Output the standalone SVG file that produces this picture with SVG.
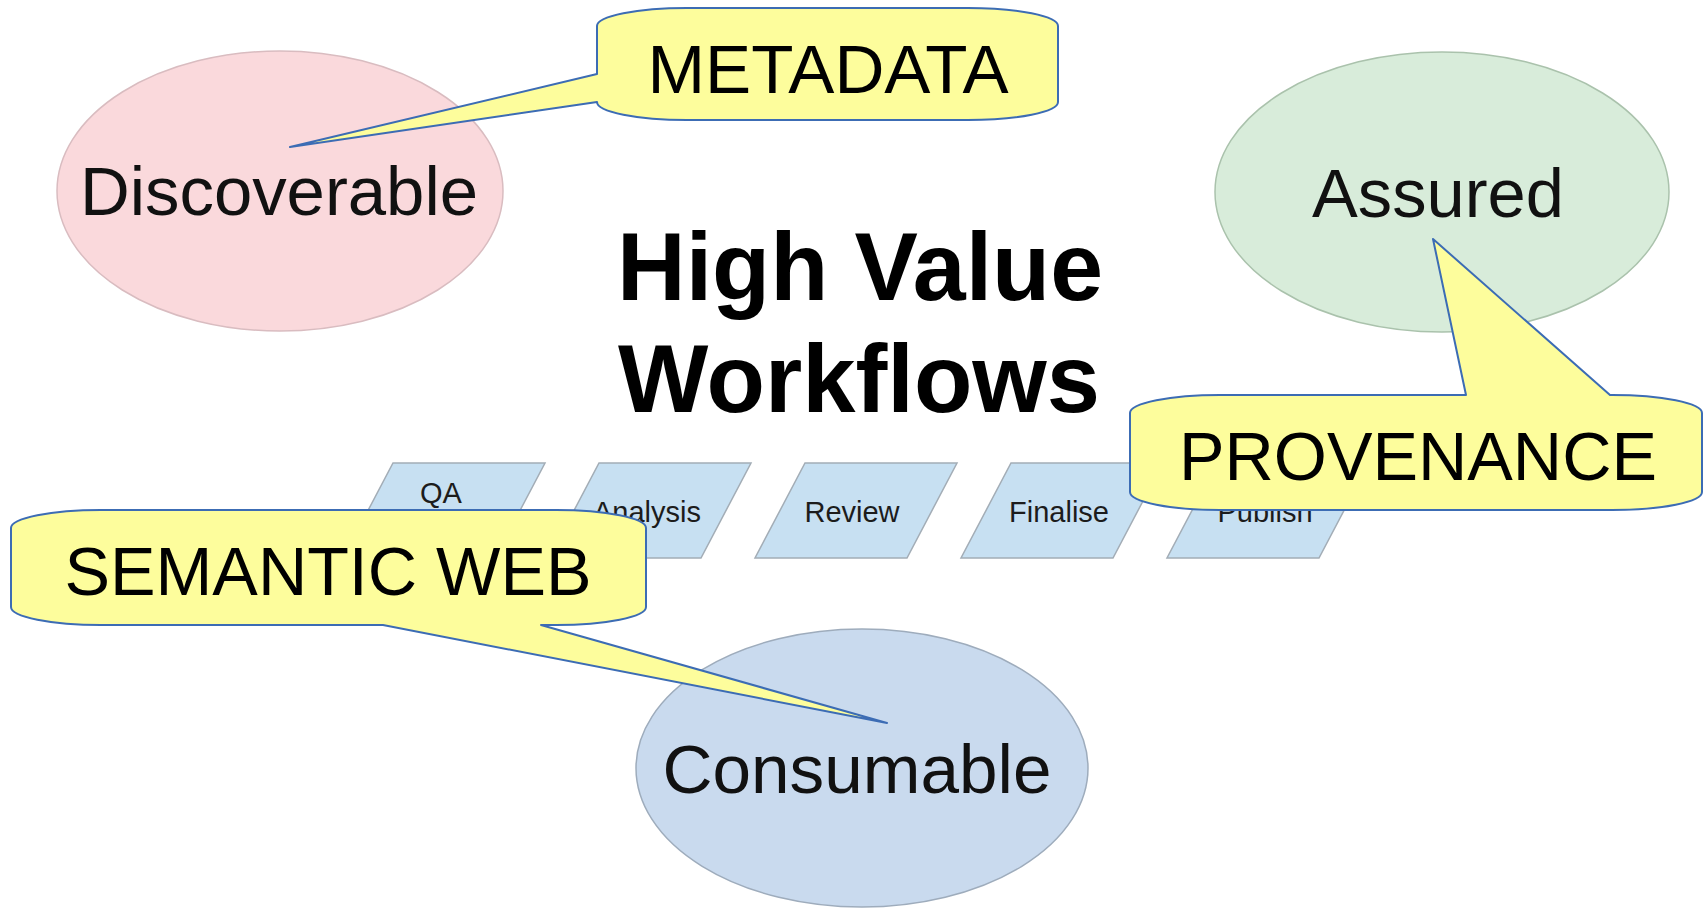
<svg xmlns="http://www.w3.org/2000/svg" width="1704" height="908" viewBox="0 0 1704 908">
  <style>
    .bubble-txt { font-family: "Liberation Sans", Arial, sans-serif; font-size: 69px; fill: #111; text-anchor: middle; }
    .callout { fill: #fdfd9c; stroke: #3c6cb4; stroke-width: 2; stroke-linejoin: round; }
    .callout-txt { font-family: "Liberation Sans", Arial, sans-serif; font-size: 69px; fill: #000; text-anchor: middle; }
    .step { fill: #c7e0f2; stroke: #a3adb6; stroke-width: 1.5; }
    .step-txt { font-family: "Liberation Sans", Arial, sans-serif; font-size: 29px; fill: #1c1c1c; text-anchor: middle; }
    .title { font-family: "Liberation Sans", Arial, sans-serif; font-weight: bold; font-size: 96px; fill: #000; text-anchor: middle; }
  </style>
  <rect x="0" y="0" width="1704" height="908" fill="#ffffff"/>

  <!-- quality goals -->
  <g id="discoverable">
    <ellipse cx="280" cy="191" rx="223" ry="140" fill="#fad9dc" stroke="#d9bcc0" stroke-width="1.5"/>
    <text class="bubble-txt" x="279" y="215" textLength="398" lengthAdjust="spacingAndGlyphs">Discoverable</text>
  </g>
  <g id="assured">
    <ellipse cx="1442" cy="192" rx="227" ry="140" fill="#d8ecda" stroke="#aac2ac" stroke-width="1.5"/>
    <text class="bubble-txt" x="1438" y="217" textLength="252" lengthAdjust="spacingAndGlyphs">Assured</text>
  </g>
  <g id="consumable">
    <ellipse cx="862" cy="768" rx="226" ry="139" fill="#c9daee" stroke="#9eacbc" stroke-width="1.5"/>
    <text class="bubble-txt" x="857" y="793" textLength="389" lengthAdjust="spacingAndGlyphs">Consumable</text>
  </g>

  <!-- title -->
  <g id="title">
    <text class="title" x="860" y="300" textLength="486" lengthAdjust="spacingAndGlyphs">High Value</text>
    <text class="title" x="859" y="412" textLength="482" lengthAdjust="spacingAndGlyphs">Workflows</text>
  </g>

  <!-- workflow steps -->
  <g id="step-qa">
    <polygon class="step" points="393,463 545,463 495,558 343,558"/>
    <text class="step-txt" x="441" y="503">QA</text>
  </g>
  <g id="step-analysis">
    <polygon class="step" points="599,463 751,463 701,558 549,558"/>
    <text class="step-txt" x="647" y="522">Analysis</text>
  </g>
  <g id="step-review">
    <polygon class="step" points="805,463 957,463 907,558 755,558"/>
    <text class="step-txt" x="852" y="522">Review</text>
  </g>
  <g id="step-finalise">
    <polygon class="step" points="1011,463 1163,463 1113,558 961,558"/>
    <text class="step-txt" x="1059" y="522">Finalise</text>
  </g>
  <g id="step-publish">
    <polygon class="step" points="1217,463 1369,463 1319,558 1167,558"/>
    <text class="step-txt" x="1265" y="522">Publish</text>
  </g>

  <!-- callouts pointing at the goals -->
  <g id="connectors">
    <g id="callout-metadata">
      <path class="callout" d="M 687 8 H 968 A 90 18 0 0 1 1058 26 V 102 A 90 18 0 0 1 968 120 H 687 A 90 18 0 0 1 597 102 L 290 147 L 597 74 V 26 A 90 18 0 0 1 687 8 Z"/>
      <text class="callout-txt" x="828" y="93" textLength="361" lengthAdjust="spacingAndGlyphs">METADATA</text>
    </g>
    <g id="callout-provenance">
      <path class="callout" d="M 1220 395 H 1466 L 1433 239 L 1610 395 H 1612 A 90 18 0 0 1 1702 413 V 492 A 90 18 0 0 1 1612 510 H 1220 A 90 18 0 0 1 1130 492 V 413 A 90 18 0 0 1 1220 395 Z"/>
      <text class="callout-txt" x="1418" y="480" textLength="478" lengthAdjust="spacingAndGlyphs">PROVENANCE</text>
    </g>
    <g id="callout-semantic-web">
      <path class="callout" d="M 101 510 H 556 A 90 18 0 0 1 646 528 V 607 A 90 18 0 0 1 556 625 H 541 L 887 723 L 383 625 H 101 A 90 18 0 0 1 11 607 V 528 A 90 18 0 0 1 101 510 Z"/>
      <text class="callout-txt" x="328" y="595" textLength="527" lengthAdjust="spacingAndGlyphs">SEMANTIC WEB</text>
    </g>
  </g>
</svg>
